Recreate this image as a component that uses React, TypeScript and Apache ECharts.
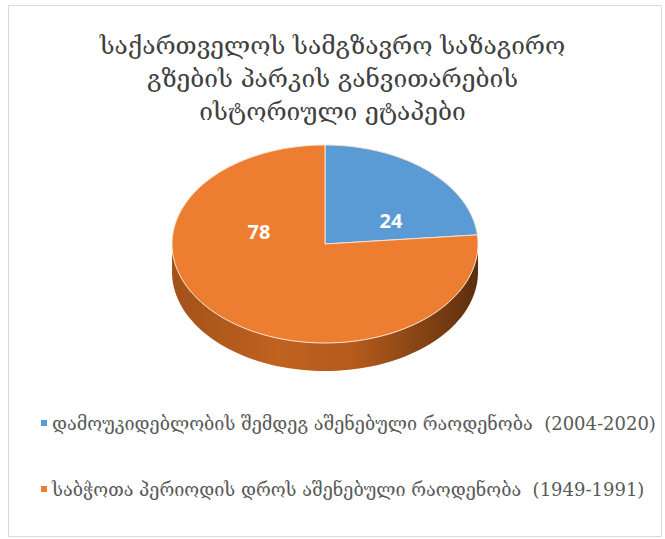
import React, { useEffect, useRef } from "react";
import * as echarts from "echarts";

const titleLines = [
  "საქართველოს სამგზავრო საზაგირო",
  "გზების პარკის განვითარების",
  "ისტორიული ეტაპები",
];
const categories = [
  "დამოუკიდებლობის შემდეგ აშენებული რაოდენობა  (2004-2020)",
  "საბჭოთა პერიოდის დროს აშენებული რაოდენობა  (1949-1991)",
];
const values = [24, 78];
const colors = ["#5B9BD5", "#ED7D31"];

const CX = 325;
const CY = 244;
const RX = 153;
const RY = 99;
const DEPTH = 28;

function pt(t: number, dy = 0): number[] {
  return [CX + RX * Math.sin(t), CY - RY * Math.cos(t) + dy];
}

export default function App() {
  const ref = useRef<HTMLDivElement>(null);
  useEffect(() => {
    document.body.style.margin = "0";
    const chart = echarts.init(ref.current!, null, { renderer: "svg" });
    const total = values.reduce((a, b) => a + b, 0);
    const starts: number[] = [];
    let acc = 0;
    values.forEach((v) => {
      starts.push((acc / total) * Math.PI * 2);
      acc += v;
    });

    const makeSeries = (idx: number) => ({
      type: "custom",
      name: categories[idx],
      coordinateSystem: "none",
      color: colors[idx],
      data: [values[idx]],
      z: 2,
      renderItem: (params: any, api: any) => {
        const v = api.value(0);
        const a0 = starts[idx];
        const a1 = a0 + (v / total) * Math.PI * 2;
        const children: any[] = [];
        const s0 = Math.max(a0, Math.PI / 2);
        const s1 = Math.min(a1, (Math.PI * 3) / 2);
        if (s1 > s0) {
          const top: number[][] = [];
          const bot: number[][] = [];
          const n = 80;
          for (let i = 0; i <= n; i++) {
            const t = s0 + ((s1 - s0) * i) / n;
            top.push(pt(t));
            bot.push(pt(t, DEPTH));
          }
          children.push({
            type: "polygon",
            z2: 1,
            shape: { points: top.concat(bot.reverse()) },
            style: {
              fill: new echarts.graphic.LinearGradient(0, 0, 1, 0, [
                { offset: 0, color: "#a2521a" },
                { offset: 0.35, color: "#c0621f" },
                { offset: 0.6, color: "#b35a1c" },
                { offset: 0.85, color: "#7d4013" },
                { offset: 1, color: "#5a2e0e" },
              ]),
              stroke: null,
            },
          });
        }
        const pts: number[][] = [[CX, CY]];
        const n = 120;
        for (let i = 0; i <= n; i++) {
          pts.push(pt(a0 + ((a1 - a0) * i) / n));
        }
        children.push({
          type: "polygon",
          z2: 2,
          shape: { points: pts },
          style: { fill: colors[idx], stroke: "#f8e3d2", lineWidth: 1 },
        });
        const mid = (a0 + a1) / 2;
        children.push({
          type: "text",
          z2: 3,
          x: CX + 0.64 * RX * Math.sin(mid),
          y: CY - 0.082 * RY * Math.cos(mid) - 18,
          style: {
            text: String(v),
            fill: "#ffffff",
            font: "bold 20px 'Open Sans', sans-serif",
            align: "center",
            verticalAlign: "middle",
          },
        });
        return { type: "group", children };
      },
    });

    chart.setOption({
      animation: false,
      backgroundColor: "#ffffff",
      title: {
        text: titleLines.join("\n"),
        left: "center",
        top: 24,
        textStyle: {
          fontFamily: "'DejaVu Serif', serif",
          fontSize: 24.5,
          fontWeight: "normal",
          color: "#404040",
          lineHeight: 33,
        },
      },
      legend: {
        orient: "vertical",
        left: 36,
        top: 409,
        itemGap: 48,
        itemWidth: 6,
        itemHeight: 6,
        icon: "rect",
        data: categories,
        textStyle: {
          fontFamily: "'DejaVu Serif', serif",
          fontSize: 18,
          color: "#595959",
        },
      },
      graphic: [
        {
          type: "rect",
          shape: { x: 8.5, y: 5.5, width: 653, height: 531 },
          style: { fill: "none", stroke: "#d9d9d9", lineWidth: 1 },
          z: 0,
        },
      ],
      series: [makeSeries(0), makeSeries(1)],
    });
    return () => chart.dispose();
  }, []);
  return <div ref={ref} style={{ width: 665, height: 539 }} />;
}
